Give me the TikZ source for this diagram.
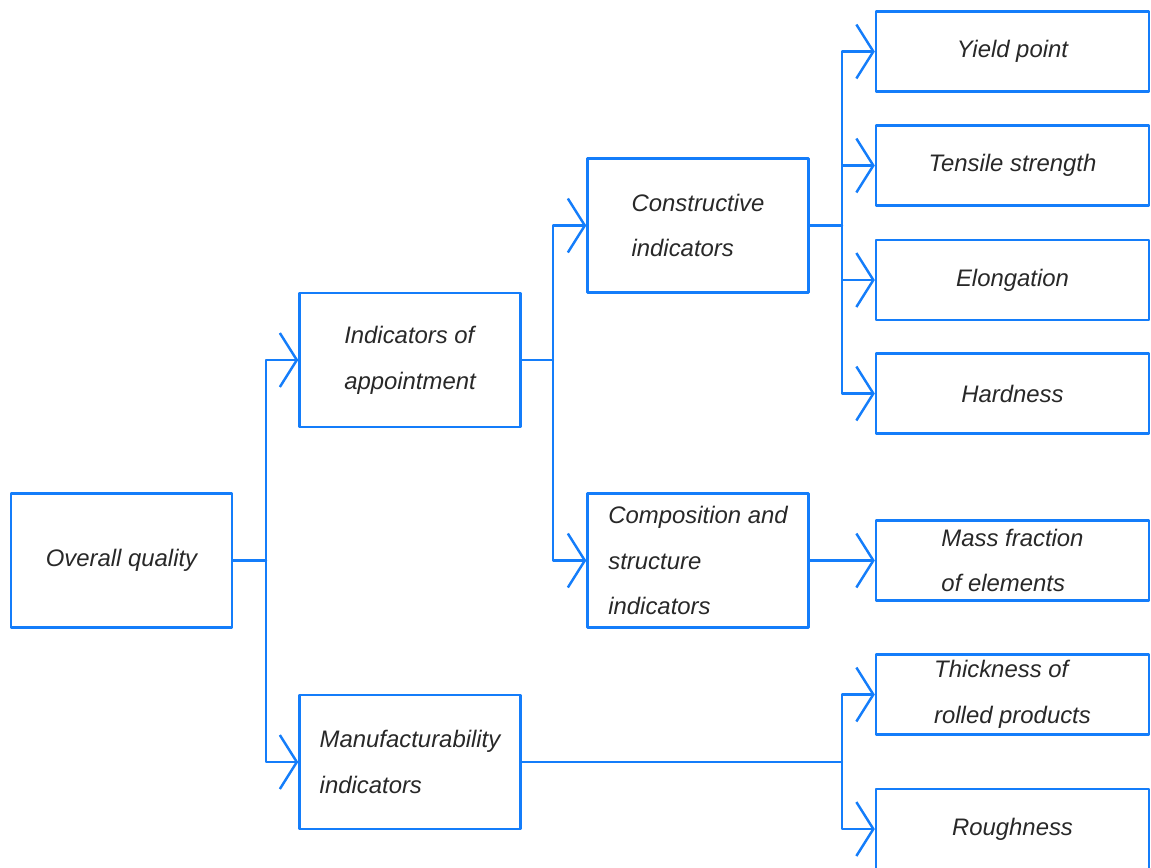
\documentclass[tikz,border=0pt]{standalone}
\usepackage{fontspec}
\setmainfont{Liberation Sans}
\usetikzlibrary{arrows.meta}
\definecolor{lineblue}{RGB}{20,125,250}
\definecolor{txtgray}{RGB}{40,40,40}
\begin{document}
\begin{tikzpicture}[x=0.02cm, y=-0.02cm, line join=round, line cap=round,
    font=\fontsize{13.6}{26}\selectfont\itshape, >={Straight Barb[length=0.34cm, width=1.08cm]},
    link/.style={draw=lineblue, line width=1.4pt},
    box/.style={draw=lineblue, line width=1.4pt, text=txtgray, align=left, inner sep=0pt},
    midbox/.style={box, minimum width=4.42cm, minimum height=2.68cm},
    endbox/.style={box, minimum width=5.46cm, minimum height=1.6cm}]
			\useasboundingbox (0,0) rectangle (1151,867);
			%%%%%%%%%%%%%%%%%%%%%%%%%%%%%%%%%
			\node[midbox] (overall) at (121.5,560.5) {Overall quality};
			\node[midbox] (appoint) at (410,360) {Indicators of\\appointment};
			\node[midbox] (manuf) at (410,762) {Manufacturability\\indicators};
			\node[midbox] (constr) at (698,225.5) {Constructive\\indicators};
			\node[midbox] (compos) at (698,560.5) {Composition and\\structure\\indicators};
			%%%%%%%%%%%%%%%%%%%%%%%%%%%%%%%%%
			\node[endbox] (yield) at (1012.5,51.5) {Yield point};
			\node[endbox] (tensile) at (1012.5,165.5) {Tensile strength};
			\node[endbox] (elong) at (1012.5,280) {Elongation};
			\node[endbox] (hard) at (1012.5,393.5) {Hardness};
			\node[endbox] (mass) at (1012.5,560.5) {Mass fraction\\of elements};
			\node[endbox] (thick) at (1012.5,694.5) {Thickness of\\rolled products};
			\node[endbox] (rough) at (1012.5,829) {Roughness};
			%%%%%%%%%%%%%%%%%%%%%%%%%%%%%%%%%
			\coordinate (j1) at (266,560.5);
			\coordinate (j2) at (553,360);
			\coordinate (j3) at (842,225.5);
			\coordinate (j4) at (842,762);
			%%%%%%%%%%%%%%%%%%%%%%%%%%%%%%%%%
			\draw[link] (overall.east) -- (j1);
			\draw[link,->] (j1) |- (appoint.west);
			\draw[link,->] (j1) |- (manuf.west);
			\draw[link] (appoint.east) -- (j2);
			\draw[link,->] (j2) |- (constr.west);
			\draw[link,->] (j2) |- (compos.west);
			\draw[link] (constr.east) -- (j3);
			\draw[link,->] (j3) |- (yield.west);
			\draw[link,->] (j3) |- (tensile.west);
			\draw[link,->] (j3) |- (elong.west);
			\draw[link,->] (j3) |- (hard.west);
			\draw[link,->] (compos.east) -- (mass.west);
			\draw[link] (manuf.east) -- (j4);
			\draw[link,->] (j4) |- (thick.west);
			\draw[link,->] (j4) |- (rough.west);
			%%%%%%%%%%%%%%%%%%%%%%%%%%%%%%%%%
		\end{tikzpicture}
\end{document}
